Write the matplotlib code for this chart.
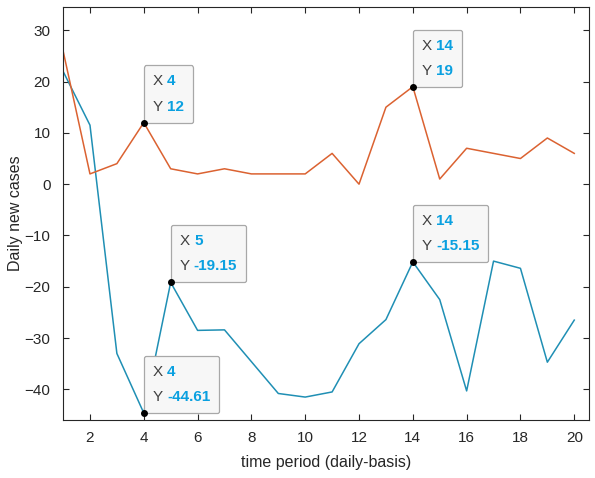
import matplotlib
matplotlib.use('Agg')
import matplotlib.pyplot as plt
from matplotlib.offsetbox import TextArea, HPacker, VPacker, AnnotationBbox

# time period (days)
days = list(range(1, 21))
# orange series
series_a = [26, 2, 4, 12, 3, 2, 3, 2, 2, 2, 6, 0, 15, 19, 1, 7, 6, 5, 9, 6]
# blue series
series_b = [22, 11.5, -33, -44.61, -19.15, -28.5, -28.4, -34.6, -40.8, -41.5,
            -40.5, -31.1, -26.4, -15.15, -22.5, -40.3, -15, -16.4, -34.7, -26.5]

# data tips (x, y)
tips = [(4, 12), (14, 19), (5, -19.15), (14, -15.15), (4, -44.61)]


def fmt(v):
    if float(v).is_integer():
        return "%d" % v
    return "%.2f" % v


def main():
    plt.rcParams['font.family'] = ['Liberation Sans', 'DejaVu Sans']
    fig = plt.figure(figsize=(5.95, 4.78), dpi=100)
    ax = fig.add_axes([0.106, 0.121, 0.884, 0.864])

    ax.plot(days, series_b, color='#1f8fb4', lw=1.1)
    ax.plot(days, series_a, color='#db6231', lw=1.1)

    ax.set_xlim(1, 20.55)
    ax.set_ylim(-46, 34.5)
    ax.set_xticks(range(2, 21, 2))
    ax.set_yticks(range(-40, 31, 10))
    ax.tick_params(direction='in', top=True, right=True, length=4,
                   labelsize=11, colors='#262626', width=0.8)
    ax.tick_params(axis='x', pad=8)
    ax.tick_params(axis='y', pad=9)
    for s in ax.spines.values():
        s.set_color('#262626')
        s.set_linewidth(0.8)
    ax.set_xlabel('time period (daily-basis)', fontsize=11.5, color='#262626',
                  labelpad=7)
    ax.set_ylabel('Daily new cases', fontsize=11.5, color='#262626', labelpad=1)

    pad = 0.65
    off = pad * 10  # pad * font size, in points
    for x, y in tips:
        ax.plot([x], [y], 'o', color='black', ms=4, zorder=6, clip_on=False)
        rows = []
        for name, val in (('X', x), ('Y', y)):
            t1 = TextArea(name + ' ', textprops=dict(color='#404040', fontsize=11))
            t2 = TextArea(fmt(val), textprops=dict(color='#0aa0e0', fontsize=11,
                                                   fontweight='bold'))
            rows.append(HPacker(children=[t1, t2], pad=0, sep=0))
        box = VPacker(children=rows, pad=0, sep=8, align='left')
        ab = AnnotationBbox(box, (x, y), xybox=(off, off), xycoords='data',
                            boxcoords='offset points', box_alignment=(0, 0),
                            frameon=True, pad=pad,
                            bboxprops=dict(facecolor='#f7f7f7', edgecolor='#a8a8a8',
                                           boxstyle='round,pad=%.2f,rounding_size=0.15' % pad,
                                           lw=0.9))
        ab.set_zorder(5)
        ax.add_artist(ab)

    fig.savefig('out.png', dpi=100)


if __name__ == '__main__':
    main()
